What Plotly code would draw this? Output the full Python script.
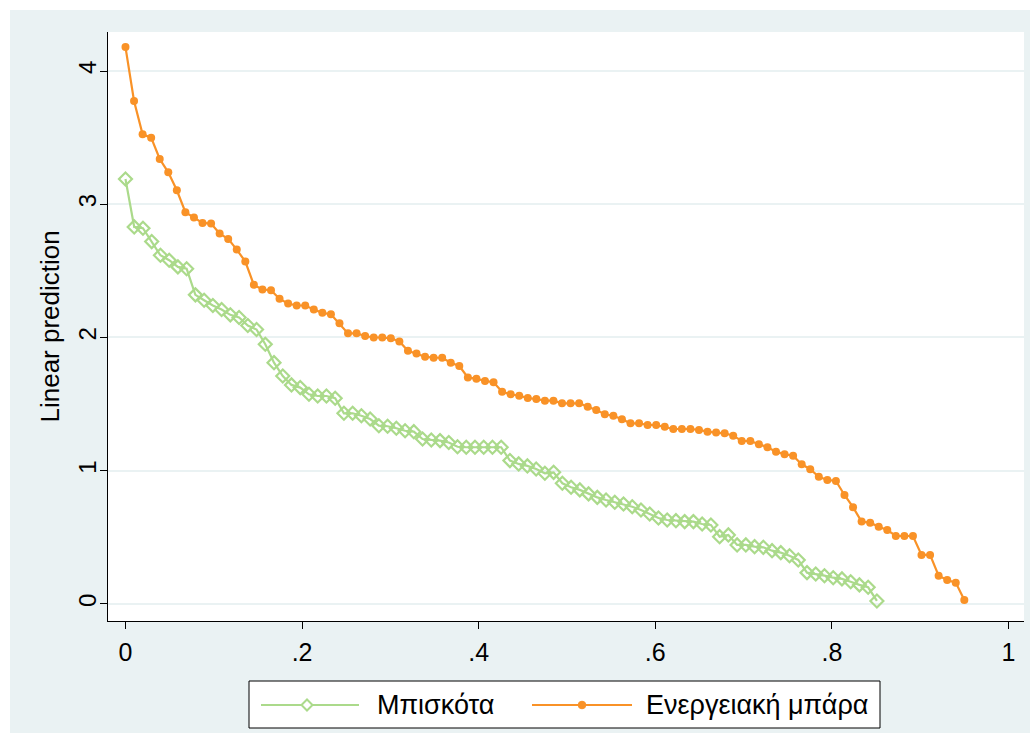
import plotly.graph_objects as go

# ---- data ----
x_ticks = [0, 0.2, 0.4, 0.6, 0.8, 1]
x_tick_text = ["0", ".2", ".4", ".6", ".8", "1"]
y_ticks = [0, 1, 2, 3, 4]
y_tick_text = ["0", "1", "2", "3", "4"]

biscuit_name = "Μπισκότα"
bar_name = "Ενεργειακή μπάρα"

# evenly spaced positions (first and last)
biscuit_x_first, biscuit_x_last = 0.0, 0.851
bar_x_first, bar_x_last = 0.0, 0.950

biscuit_y = [3.19, 2.83, 2.82, 2.72, 2.617, 2.58, 2.53, 2.516, 2.32, 2.28,
             2.24, 2.21, 2.17, 2.15, 2.09, 2.06, 1.949, 1.811, 1.711, 1.644,
             1.624, 1.574, 1.561, 1.561, 1.544, 1.431, 1.431, 1.413, 1.388, 1.338,
             1.334, 1.319, 1.30, 1.293, 1.238, 1.231, 1.226, 1.212, 1.18, 1.176,
             1.176, 1.176, 1.176, 1.176, 1.076, 1.051, 1.036, 1.013, 0.981, 0.988,
             0.906, 0.876, 0.856, 0.826, 0.80, 0.78, 0.763, 0.75, 0.73, 0.705,
             0.675, 0.645, 0.63, 0.625, 0.618, 0.618, 0.60, 0.593, 0.505, 0.518,
             0.443, 0.443, 0.43, 0.425, 0.40, 0.385, 0.362, 0.33, 0.235, 0.225,
             0.212, 0.197, 0.188, 0.167, 0.143, 0.125, 0.0225]

bar_y = [4.18, 3.775, 3.525, 3.50, 3.34, 3.24, 3.105, 2.94, 2.90, 2.86,
         2.855, 2.78, 2.74, 2.66, 2.57, 2.395, 2.36, 2.355, 2.29, 2.255,
         2.24, 2.24, 2.21, 2.185, 2.175, 2.107, 2.031, 2.031, 2.011, 2.00,
         2.00, 1.994, 1.97, 1.90, 1.88, 1.856, 1.848, 1.848, 1.81, 1.786,
         1.70, 1.69, 1.674, 1.664, 1.593, 1.574, 1.563, 1.546, 1.538, 1.526,
         1.526, 1.506, 1.506, 1.506, 1.48, 1.456, 1.424, 1.413, 1.386, 1.356,
         1.356, 1.343, 1.343, 1.33, 1.313, 1.313, 1.313, 1.306, 1.293, 1.286,
         1.281, 1.263, 1.223, 1.223, 1.199, 1.176, 1.143, 1.124, 1.113, 1.048,
         1.011, 0.955, 0.931, 0.923, 0.818, 0.726, 0.618, 0.61, 0.58, 0.555,
         0.51, 0.51, 0.51, 0.368, 0.368, 0.212, 0.18, 0.16, 0.03]


def spaced(first, last, n):
    step = (last - first) / (n - 1)
    return [first + i * step for i in range(n)]


biscuit_x = spaced(biscuit_x_first, biscuit_x_last, len(biscuit_y))
bar_x = spaced(bar_x_first, bar_x_last, len(bar_y))

# ---- style ----
GREEN = "#ABDA8B"
ORANGE = "#F99227"
BG = "#EAF2F3"
FONT = "Liberation Sans"

W, H = 1030, 733
L, R, T, B = 108, 6, 32, 112
PW, PH = W - L - R, H - T - B


def px(xpix):
    return (xpix - L) / PW


def py(ypix):
    return (H - B - ypix) / PH


fig = go.Figure()
fig.add_trace(go.Scatter(
    x=biscuit_x, y=biscuit_y, name=biscuit_name, mode="lines+markers",
    line=dict(color=GREEN, width=2.2),
    marker=dict(symbol="diamond-open", size=10, color=GREEN, line=dict(width=2.2, color=GREEN)),
    showlegend=False))
fig.add_trace(go.Scatter(
    x=bar_x, y=bar_y, name=bar_name, mode="lines+markers",
    line=dict(color=ORANGE, width=2.2),
    marker=dict(symbol="circle", size=8, color=ORANGE),
    showlegend=False))

shapes = [
    # outer graph region (white strip left/top)
    dict(type="rect", xref="paper", yref="paper", layer="below",
         x0=px(10), x1=px(W + 5), y0=py(H + 5), y1=py(10),
         fillcolor=BG, line=dict(width=0)),
    # plot region
    dict(type="rect", xref="paper", yref="paper", layer="below",
         x0=0, x1=1, y0=0, y1=1, fillcolor="white", line=dict(width=0)),
]

# custom legend
lg_y = py(705)
shapes += [
    dict(type="rect", xref="paper", yref="paper", layer="below",
         x0=px(249), x1=px(880), y0=py(728), y1=py(681),
         fillcolor="white", line=dict(color="black", width=1)),
    dict(type="line", xref="paper", yref="paper",
         x0=px(261), x1=px(359), y0=lg_y, y1=lg_y, line=dict(color=GREEN, width=2.2)),
    dict(type="line", xref="paper", yref="paper",
         x0=px(532), x1=px(632), y0=lg_y, y1=lg_y, line=dict(color=ORANGE, width=2.2)),
]
cx, dx, dy = px(307), 5.5 / PW, 5.5 / PH
shapes.append(dict(type="path", xref="paper", yref="paper",
                   path=f"M {cx-dx},{lg_y} L {cx},{lg_y+dy} L {cx+dx},{lg_y} L {cx},{lg_y-dy} Z",
                   fillcolor="white", line=dict(color=GREEN, width=2)))
ox, rx, ry = px(582), 3.8 / PW, 3.8 / PH
shapes.append(dict(type="circle", xref="paper", yref="paper",
                   x0=ox - rx, x1=ox + rx, y0=lg_y - ry, y1=lg_y + ry,
                   fillcolor=ORANGE, line=dict(color=ORANGE, width=1)))

annotations = [
    dict(text=biscuit_name, xref="paper", yref="paper", x=px(375), y=lg_y,
         xanchor="left", yanchor="middle", showarrow=False,
         font=dict(family=FONT, size=27, color="black")),
    dict(text=bar_name, xref="paper", yref="paper", x=px(644), y=lg_y,
         xanchor="left", yanchor="middle", showarrow=False,
         font=dict(family=FONT, size=27, color="black")),
]

fig.update_layout(
    width=W, height=H, autosize=False,
    margin=dict(l=L, r=R, t=T, b=B, pad=0),
    paper_bgcolor="white", plot_bgcolor="white",
    shapes=shapes, annotations=annotations,
    font=dict(family=FONT, size=24, color="black"),
    xaxis=dict(range=[-0.0198, 1.0176], tickvals=x_ticks, ticktext=x_tick_text,
               ticks="outside", ticklen=7, tickcolor="black", tickwidth=1,
               showline=True, linecolor="black", linewidth=1,
               showgrid=False, zeroline=False, ticklabelstandoff=2,
               tickfont=dict(family=FONT, size=25, color="black")),
    yaxis=dict(range=[-0.128, 4.293], tickvals=y_ticks, ticktext=y_tick_text,
               tickangle=-90, ticks="outside", ticklen=7, tickcolor="black", tickwidth=1,
               showline=True, linecolor="black", linewidth=1,
               showgrid=True, gridcolor=BG, gridwidth=2, zeroline=False,
               ticklabelstandoff=-6,
               tickfont=dict(family=FONT, size=24, color="black")),
)

# y-axis title placed as rotated text, centred on the plot height
fig.add_annotation(text="Linear prediction", xref="paper", yref="paper",
                   x=px(49), y=0.5, textangle=-90, showarrow=False,
                   xanchor="center", yanchor="middle",
                   font=dict(family=FONT, size=26, color="black"))

fig.write_html("out.html")
